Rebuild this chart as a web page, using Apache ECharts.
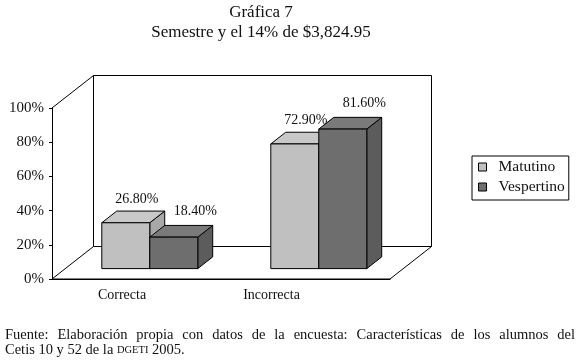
<!DOCTYPE html>
<html>
<head>
<meta charset="utf-8">
<script src="https://cdn.jsdelivr.net/npm/echarts@6/dist/echarts.min.js"></script>
<style>html,body{margin:0;background:#fff}#main{width:580px;height:361px}</style>
</head>
<body>
<div id="main"></div>
<script>
var categories = ['Correcta', 'Incorrecta'];
var matutino = [26.8, 72.9];
var vespertino = [18.4, 81.6];
var yTicks = [0, 20, 40, 60, 80, 100];
var seriesNames = ['Matutino', 'Vespertino'];
var titleLines = ['Gráfica 7', 'Semestre y el 14% de $3,824.95'];
var sourceLine1 = 'Fuente: Elaboración propia con datos de la encuesta: Características de los alumnos del';
var sourceLine2 = 'Cetis 10 y 52 de la {sc|DGETI} 2005.';

// profundidad del "3d" en pixeles, y la franja que ocupan las barras
var DX = 41.5, DY = -32.5, D0 = 0.32, D1 = 0.68, BAR = 0.284;
var FONT = '"Liberation Serif", "DejaVu Serif", serif';
var faces = [
	{front: '#c0c0c0', top: '#c8c8c8', side: '#a8a8a8', lx: -4, ly: -12, dir: -1},
	{front: '#6e6e6e', top: '#7a7a7a', side: '#5c5c5c', lx: 6.5, ly: -14.5, dir: 1}
];

function barItem(face) {
	return function(params, api) {
		var c = api.coord([api.value(0), api.value(1)]), base = api.coord([api.value(0), 0]);
		var w = api.size([1, 0])[0]*BAR, x0 = face.dir < 0? base[0]-w: base[0], x1 = x0+w, yT = c[1], yB = base[1];
		function p(x, y, d) { return [x+DX*d, y+DY*d] }
		var st = function(fill) { return {fill: fill, stroke: '#000', lineWidth: 1} }
		var lbl = p((x0+x1)/2, yT, D1);
		return {type: 'group', children: [
			{type: 'polygon', shape: {points: [p(x1,yB,D0), p(x1,yB,D1), p(x1,yT,D1), p(x1,yT,D0)]}, style: st(face.side)},
			{type: 'polygon', shape: {points: [p(x0,yT,D0), p(x1,yT,D0), p(x1,yT,D1), p(x0,yT,D1)]}, style: st(face.top)},
			{type: 'polygon', shape: {points: [p(x0,yB,D0), p(x1,yB,D0), p(x1,yT,D0), p(x0,yT,D0)]}, style: st(face.front)},
			{type: 'text', x: lbl[0]+face.lx, y: lbl[1]+face.ly, style: {text: api.value(1).toFixed(2)+'%', font: '14px '+FONT, fill: '#111', align: 'center', verticalAlign: 'middle'}}
		]};
	}
}

function wallItem(params, api) {
	var cs = params.coordSys, l = cs.x, r = cs.x+cs.width, t = cs.y, b = cs.y+cs.height;
	var st = {fill: '#fff', stroke: '#000', lineWidth: 1};
	return {type: 'group', children: [
		{type: 'polygon', shape: {points: [[l+DX,t+DY], [r+DX,t+DY], [r+DX,b+DY], [l+DX,b+DY]]}, style: st},
		{type: 'polygon', shape: {points: [[l,b], [r,b], [r+DX,b+DY], [l+DX,b+DY]]}, style: st},
		{type: 'line', shape: {x1: l, y1: t, x2: l+DX, y2: t+DY}, style: {stroke: '#000', lineWidth: 1}}
	]};
}

// la primera linea de la fuente va justificada, palabra por palabra
function justified(text, x0, x1, y, font) {
	var ctx = document.createElement('canvas').getContext('2d'); ctx.font = font
	var words = text.split(' '), widths = words.map(function(w) { return ctx.measureText(w).width })
	var gap = (x1-x0-widths.reduce(function(a, b) { return a+b }, 0))/(words.length-1), x = x0
	return words.map(function(w, i) { var item = {type: 'text', x: x, y: y, style: {text: w, font: font, fill: '#111', verticalAlign: 'middle'}}; x += widths[i]+gap; return item })
}

var footFont = '14.5px '+FONT;
var chart = echarts.init(document.getElementById('main'));
chart.setOption({
	animation: false,
	backgroundColor: '#fff',
	grid: {left: 52, right: 190, top: 108, bottom: 82},
	xAxis: {type: 'category', data: categories,
		axisLine: {lineStyle: {color: '#000'}}, axisTick: {length: 4, lineStyle: {color: '#000'}},
		axisLabel: {margin: 9, color: '#111', fontFamily: FONT, fontSize: 14,
			formatter: function(v, i) { return '{c'+i+'|'+v+'}' },
			rich: {c0: {padding: [0, 29, 0, 0], fontFamily: FONT, fontSize: 14}, c1: {padding: [0, 68, 0, 0], fontFamily: FONT, fontSize: 14}}}
	},
	yAxis: {type: 'value', min: yTicks[0], max: yTicks[yTicks.length-1], interval: yTicks[1]-yTicks[0],
		axisLine: {show: true, lineStyle: {color: '#000'}}, axisTick: {show: true, length: 3, lineStyle: {color: '#000'}},
		splitLine: {show: false},
		axisLabel: {margin: 8, color: '#111', fontFamily: FONT, fontSize: 15, formatter: '{value}%'}
	},
	legend: {orient: 'vertical', left: 472, top: 156, data: seriesNames, icon: 'rect',
		borderColor: '#000', borderWidth: 1, padding: [3, 4, 5, 6], itemWidth: 8, itemHeight: 8, itemGap: 4,
		itemStyle: {borderColor: '#000', borderWidth: 1},
		textStyle: {fontFamily: FONT, fontSize: 15.5, color: '#111', padding: [0, 0, 0, 7]}
	},
	graphic: [
		{type: 'text', x: 261, y: 13, style: {text: titleLines[0], font: '17px '+FONT, fill: '#111', align: 'center', verticalAlign: 'middle'}},
		{type: 'text', x: 261, y: 33, style: {text: titleLines[1], font: '17px '+FONT, fill: '#111', align: 'center', verticalAlign: 'middle'}},
		{type: 'text', x: 5, y: 350, style: {text: sourceLine2, font: footFont, fill: '#111', verticalAlign: 'middle', rich: {sc: {fontSize: 10.5, fontFamily: FONT, fill: '#111'}}}}
	].concat(justified(sourceLine1, 5, 575, 335, footFont)),
	series: [
		{type: 'custom', silent: true, renderItem: wallItem, data: [[0, 0]], z: 1},
		{type: 'custom', name: seriesNames[0], renderItem: barItem(faces[0]), itemStyle: {color: faces[0].front},
			data: matutino.map(function(v, i) { return [i, v] }), z: 2},
		{type: 'custom', name: seriesNames[1], renderItem: barItem(faces[1]), itemStyle: {color: faces[1].front},
			data: vespertino.map(function(v, i) { return [i, v] }), z: 2}
	]
});
</script>
</body>
</html>
